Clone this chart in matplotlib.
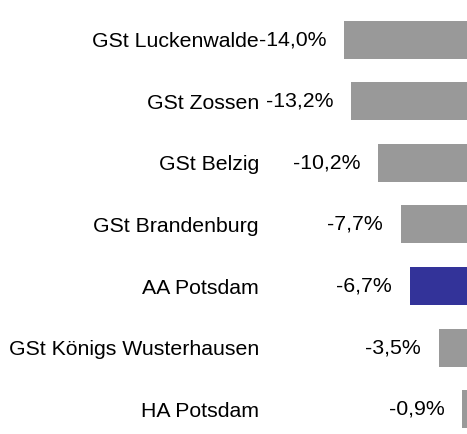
import matplotlib
matplotlib.use("Agg")
import matplotlib.pyplot as plt

categories = ["GSt Luckenwalde", "GSt Zossen", "GSt Belzig", "GSt Brandenburg",
              "AA Potsdam", "GSt Königs Wusterhausen", "HA Potsdam"]
values = [-14.0, -13.2, -10.2, -7.7, -6.7, -3.5, -0.9]
value_labels = ["-14,0%", "-13,2%", "-10,2%", "-7,7%", "-6,7%", "-3,5%", "-0,9%"]
highlight = "AA Potsdam"

plt.rcParams['font.family'] = ['Liberation Sans', 'DejaVu Sans']

W, H = 467, 434
fig = plt.figure(figsize=(W / 100, H / 100), dpi=100)
fig.patch.set_facecolor("white")

left_px, zero_px = 262, 470
ax = fig.add_axes([left_px / W, 0, (zero_px - left_px) / W, 1])

px_per_unit = 9.0
ax.set_xlim(-(zero_px - left_px) / px_per_unit, 0)
spacing = 61.58
top_center = 39.7
ax.set_ylim((H - top_center) / spacing, -top_center / spacing)

pos = list(range(len(categories)))
colors = ["#333399" if c == highlight else "#999999" for c in categories]
ax.barh(pos, values, height=38 / spacing, color=colors, edgecolor="none")

fs = 15.3
for p, v, lab in zip(pos, values, value_labels):
    ax.annotate(lab, (v, p), xytext=(-12.6, 0), textcoords="offset points",
                ha="right", va="center", fontsize=fs, color="black")

ax.set_yticks(pos)
ax.set_yticklabels(categories, fontsize=fs)
ax.tick_params(axis="y", length=0, pad=2.2)
ax.set_xticks([])
for s in ax.spines.values():
    s.set_visible(False)
ax.patch.set_alpha(0)

fig.savefig("out.png", dpi=100)
